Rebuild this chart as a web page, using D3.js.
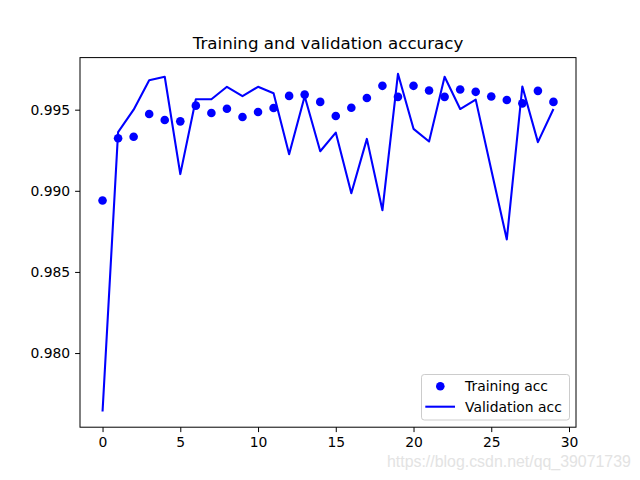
<!DOCTYPE html>
<html><head><meta charset="utf-8">
<script src="https://cdn.jsdelivr.net/npm/d3@7"></script>
<style>body{margin:0;background:#fff}svg{display:block}</style>
</head><body>
<svg id="c" width="640" height="480"></svg>
<script>
const epochs = d3.range(0, 30);
const trainingAcc = [0.9894,0.99324,0.99333,0.99473,0.99436,0.99428,0.99525,0.9948,0.99506,0.99455,
  0.99486,0.9951,0.99585,0.99593,0.99548,0.99461,0.99512,0.99572,0.99647,0.99579,
  0.99647,0.99618,0.99579,0.99624,0.9961,0.99581,0.9956,0.99539,0.99616,0.99548];
const validationAcc = [0.9764,0.99362,0.995,0.99682,0.99703,0.99103,0.99564,0.99564,0.99641,0.99583,
  0.99641,0.99601,0.99225,0.99583,0.99244,0.99359,0.98985,0.9932,0.9888,0.99721,
  0.99382,0.99304,0.99703,0.99504,0.99562,0.9913,0.987,0.99643,0.993,0.99504];
const xTicks = [0,5,10,15,20,25,30];
const yTicks = [0.980,0.985,0.990,0.995];
const title = "Training and validation accuracy";
const legendLabels = ["Training acc","Validation acc"];

const svg = d3.select("#c");
const L=80, R=576, T=57.6, B=427.2;
const x = d3.scaleLinear().domain([-1.45, 30.45]).range([L, R]);
const y = d3.scaleLinear().domain([0.97543, 0.99821]).range([B, T]);
const font = "DejaVu Sans, sans-serif";
const blue = "#0000ff";
const fs = 13.9;

// data
svg.append("path").datum(validationAcc)
  .attr("d", d3.line().x((d,i)=>x(epochs[i])).y(d=>y(d)))
  .attr("fill","none").attr("stroke",blue).attr("stroke-width",2.08).attr("stroke-linejoin","round");
svg.append("g").selectAll("circle").data(trainingAcc).join("circle")
  .attr("cx",(d,i)=>x(epochs[i])).attr("cy",d=>y(d)).attr("r",4.3).attr("fill",blue);

// axes
const gx = svg.append("g").attr("transform",`translate(0,${B})`)
  .call(d3.axisBottom(x).tickValues(xTicks).tickFormat(d3.format("d")).tickSizeOuter(0).tickSize(4.9).tickPadding(4.9));
const gy = svg.append("g").attr("transform",`translate(${L},0)`)
  .call(d3.axisLeft(y).tickValues(yTicks).tickFormat(d3.format(".3f")).tickSizeOuter(0).tickSize(4.9).tickPadding(4.9));
[gx,gy].forEach(g=>{
  g.select(".domain").remove();
  g.selectAll("text").attr("font-family",font).attr("font-size",fs).attr("fill","#000");
  g.selectAll("line").attr("stroke","#000").attr("stroke-width",1);
});
svg.append("rect").attr("x",L).attr("y",T).attr("width",R-L).attr("height",B-T)
  .attr("fill","none").attr("stroke","#000").attr("stroke-width",1);

// title
svg.append("text").attr("x",(L+R)/2).attr("y",49.3).attr("text-anchor","middle")
  .attr("font-family",font).attr("font-size",16.7).text(title);

// legend
const lg = svg.append("g");
lg.append("rect").attr("x",421.5).attr("y",374.5).attr("width",148).attr("height",45.5).attr("rx",2.8)
  .attr("fill","#fff").attr("fill-opacity",0.8).attr("stroke","#cccccc").attr("stroke-width",1);
lg.append("circle").attr("cx",440.3).attr("cy",386.3).attr("r",4.3).attr("fill",blue);
lg.append("line").attr("x1",425.3).attr("x2",455).attr("y1",406.7).attr("y2",406.7).attr("stroke",blue).attr("stroke-width",2.08);
lg.selectAll("text.l").data(legendLabels).join("text").attr("class","l")
  .attr("x",465).attr("y",(d,i)=>391.3+i*20.6).attr("font-family",font).attr("font-size",fs).text(d=>d);

// watermark
svg.append("text").attr("x",387).attr("y",467).attr("font-family","Liberation Sans, Arial, sans-serif")
  .attr("font-size",15.9).attr("fill","#e3e3e3").text("https://blog.csdn.net/qq_39071739");
</script>
</body></html>
